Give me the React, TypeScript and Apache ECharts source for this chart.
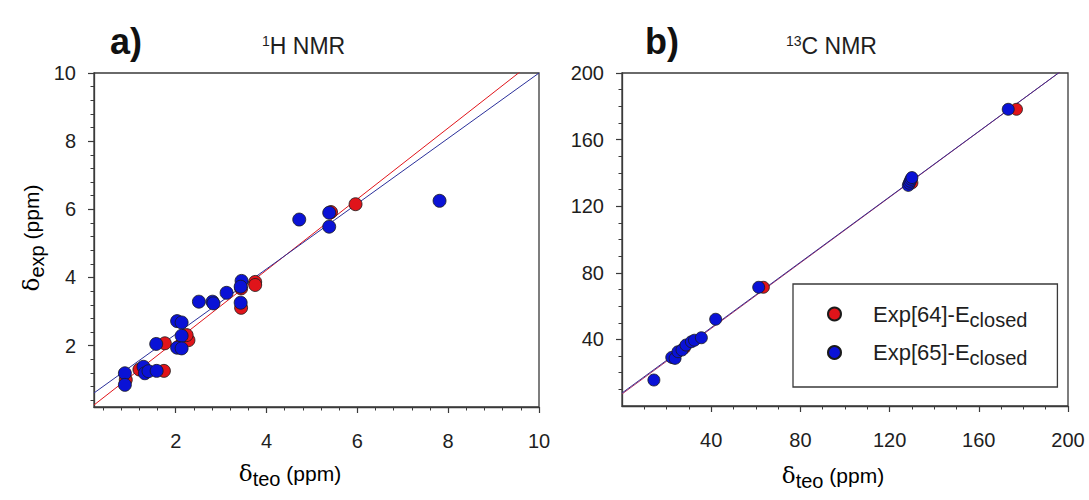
import React, { useEffect, useRef } from "react";
import * as echarts from "echarts";

// ---------- data ----------
const hNames = ["Exp[64]-Eclosed", "Exp[65]-Eclosed"];

const hRed: number[][] = [
  [0.9, 1.0], [1.2, 1.3], [1.74, 1.26], [1.76, 2.07], [2.1, 2.0], [2.28, 2.16], [2.24, 2.31],
  [3.44, 3.11], [3.44, 3.68], [3.75, 3.87], [3.75, 3.78], [5.42, 5.92], [5.96, 6.15],
];
const hBlue: number[][] = [
  [0.88, 1.19], [0.88, 0.85], [1.29, 1.38], [1.32, 1.19], [1.4, 1.25], [1.58, 1.26], [1.57, 2.05],
  [2.03, 2.72], [2.13, 2.68], [2.13, 2.29], [2.03, 1.94], [2.13, 1.92], [2.51, 3.29],
  [2.81, 3.29], [2.83, 3.24], [3.12, 3.55], [3.45, 3.9], [3.43, 3.73], [3.43, 3.26],
  [4.72, 5.7], [5.38, 5.9], [5.38, 5.49], [7.81, 6.25],
];
const cRed: number[][] = [
  [23, 29], [28, 35], [63.4, 71.3], [130, 134], [176.9, 178.2],
];
const cBlue: number[][] = [
  [14.3, 15.6], [22.3, 29.2], [23.8, 28.6], [25.1, 32.6], [26.9, 33.6], [28.7, 36.6],
  [31.1, 38.6], [32.5, 39.5], [35.6, 41], [42, 52.1], [61.3, 71.3], [128.4, 132.5],
  [128.8, 133.8], [129.2, 135], [129.6, 136.2], [130, 137.2], [173.2, 178.2],
];
// linear fits [slope, intercept]
const hFitRed = [1.042, 0.05];
const hFitBlue = [0.958, 0.42];
const cFitRed = [0.985, 7.2];
const cFitBlue = [0.982, 7.8];

const hRange = [0.2, 10];
const cRange = [0, 200];
const hMajor = [2, 4, 6, 8, 10];
const hYMajor = [2, 4, 6, 8, 10];
const cMajor = [40, 80, 120, 160, 200];

// ---------- styles ----------
const RED = "#e0141a";
const BLUE = "#0a12d6";
const FRAME = "#3a3a3a";
const FONT = "Liberation Sans, Arial, sans-serif";

function minorTicks(step: number, from: number, to: number) {
  const out: number[] = [];
  for (let v = from; v <= to + 1e-9; v += step) out.push(Math.round(v * 1000) / 1000);
  return out;
}

function fitLine(fit: number[], range: number[]) {
  return [range[0], range[1]].map((x) => [x, fit[0] * x + fit[1]]);
}

function axisPair(kind: "x" | "y", gridIndex: number, range: number[], major: number[], minor: number[]) {
  const base = {
    gridIndex,
    type: "value",
    min: range[0],
    max: range[1],
    splitLine: { show: false },
    position: kind === "x" ? "bottom" : "left",
  };
  return [
    {
      ...base,
      axisLine: { show: true, onZero: false, lineStyle: { color: FRAME, width: 1.3 } },
      axisTick: { show: true, inside: false, length: 6, customValues: major, lineStyle: { color: FRAME, width: 1.2 } },
      axisLabel: {
        show: true,
        customValues: major,
        margin: kind === "x" ? 24 : 18,
        fontSize: 20,
        color: "#1e1e1e",
        fontFamily: FONT,
      },
    },
    {
      ...base,
      axisLine: { show: false, onZero: false },
      axisTick: { show: true, inside: false, length: 3.5, customValues: minor, lineStyle: { color: FRAME, width: 1 } },
      axisLabel: { show: false },
    },
  ];
}

function scatter(name: string, data: number[][], color: string, xi: number, yi: number, size: number) {
  return {
    type: "scatter",
    name,
    xAxisIndex: xi,
    yAxisIndex: yi,
    data,
    symbol: "circle",
    symbolSize: size,
    itemStyle: { color, borderColor: "#1a1a1a", borderWidth: 0.8, opacity: 1 },
    z: 3,
  };
}

function line(data: number[][], color: string, xi: number, yi: number) {
  return {
    type: "line",
    data,
    xAxisIndex: xi,
    yAxisIndex: yi,
    symbol: "none",
    clip: true,
    lineStyle: { color, width: 1 },
    silent: true,
    z: 2,
  };
}

const axisTitleRich = {
  d: { fontSize: 23, fontFamily: "DejaVu Serif, serif", color: "#1e1e1e" },
  s: { fontSize: 20, fontFamily: FONT, color: "#1e1e1e", padding: [11, 0, 0, 0] },
  n: { fontSize: 21, fontFamily: FONT, color: "#1e1e1e" },
};

const titleRich = {
  sup: { fontSize: 14, fontWeight: "normal", fontFamily: FONT, color: "#1e1e1e", padding: [0, 0, 10, 0] },
  m: { fontSize: 23, fontWeight: "normal", fontFamily: FONT, color: "#1e1e1e" },
};

export default function App() {
  const ref = useRef<HTMLDivElement>(null);
  useEffect(() => {
    if (!ref.current) return;
    const chart = echarts.init(ref.current, undefined, { renderer: "svg" });
    const hMinor = minorTicks(0.4, 0.4, 10);
    const cMinor = minorTicks(10, 10, 200);
    const xAxes = [
      ...axisPair("x", 0, hRange, hMajor, hMinor),
      ...axisPair("x", 1, cRange, cMajor, cMinor),
    ];
    const yAxes = [
      ...axisPair("y", 0, hRange, hYMajor, hMinor),
      ...axisPair("y", 1, cRange, cMajor, cMinor),
    ];
    const option: any = {
      animation: false,
      backgroundColor: "#ffffff",
      grid: [
        { left: 94, top: 73, width: 445, height: 334, show: true, borderColor: FRAME, borderWidth: 1.3, backgroundColor: "transparent" },
        { left: 622, top: 73, width: 446, height: 333, show: true, borderColor: FRAME, borderWidth: 1.3, backgroundColor: "transparent" },
      ],
      xAxis: xAxes,
      yAxis: yAxes,
      title: [
        { text: "a)", left: 105, top: 18, textStyle: { fontSize: 36, fontWeight: "bold", fontFamily: FONT, color: "#111" } },
        {
          text: "{sup|1}{m|H NMR}",
          left: 257,
          top: 29,
          textStyle: { fontWeight: "normal", rich: titleRich },
        },
        { text: "b)", left: 640, top: 18, textStyle: { fontSize: 36, fontWeight: "bold", fontFamily: FONT, color: "#111" } },
        {
          text: "{sup|13}{m|C NMR}",
          left: 781,
          top: 29,
          textStyle: { fontWeight: "normal", rich: titleRich },
        },
      ],
      legend: {
        orient: "vertical",
        left: 793,
        top: 284,
        padding: [19, 30, 19, 34],
        itemGap: 12,
        itemWidth: 13,
        itemHeight: 13,
        borderColor: FRAME,
        borderWidth: 1.3,
        backgroundColor: "#fff",
        data: hNames.map((n) => ({ name: n, icon: "circle" })),
        formatter: (name: string) => `{gap|}{a|${name.replace("closed", "")}}{s|closed}`,
        textStyle: {
          rich: {
            gap: { width: 27 },
            a: { fontSize: 22, fontFamily: FONT, color: "#1e1e1e" },
            s: { fontSize: 20, fontFamily: FONT, color: "#1e1e1e", padding: [11, 0, 0, 0] },
          },
        },
      },
      graphic: [
        {
          type: "text",
          x: 290,
          y: 473,
          style: { text: "{d|δ}{s|teo}{n| (ppm)}", rich: axisTitleRich, align: "center", verticalAlign: "middle" },
        },
        {
          type: "text",
          x: 833,
          y: 475,
          style: { text: "{d|δ}{s|teo}{n| (ppm)}", rich: axisTitleRich, align: "center", verticalAlign: "middle" },
        },
        {
          type: "text",
          x: 31,
          y: 238,
          rotation: Math.PI / 2,
          style: { text: "{d|δ}{s|exp}{n| (ppm)}", rich: axisTitleRich, align: "center", verticalAlign: "middle" },
        },
      ],
      series: [
        line(fitLine(hFitRed, hRange), RED, 0, 0),
        line(fitLine(hFitBlue, hRange), "#2a2f9a", 0, 0),
        scatter(hNames[0], hRed, RED, 0, 0, 13),
        scatter(hNames[1], hBlue, BLUE, 0, 0, 13),
        line(fitLine(cFitRed, cRange), "#b03060", 2, 2),
        line(fitLine(cFitBlue, cRange), "#3a3090", 2, 2),
        scatter(hNames[0], cRed, RED, 2, 2, 12),
        scatter(hNames[1], cBlue, BLUE, 2, 2, 12),
      ],
    };
    chart.setOption(option);
    return () => chart.dispose();
  }, []);
  return (
    <div
      ref={ref}
      style={{ position: "fixed", left: 0, top: 0, width: 1089, height: 500, background: "#fff" }}
    />
  );
}
